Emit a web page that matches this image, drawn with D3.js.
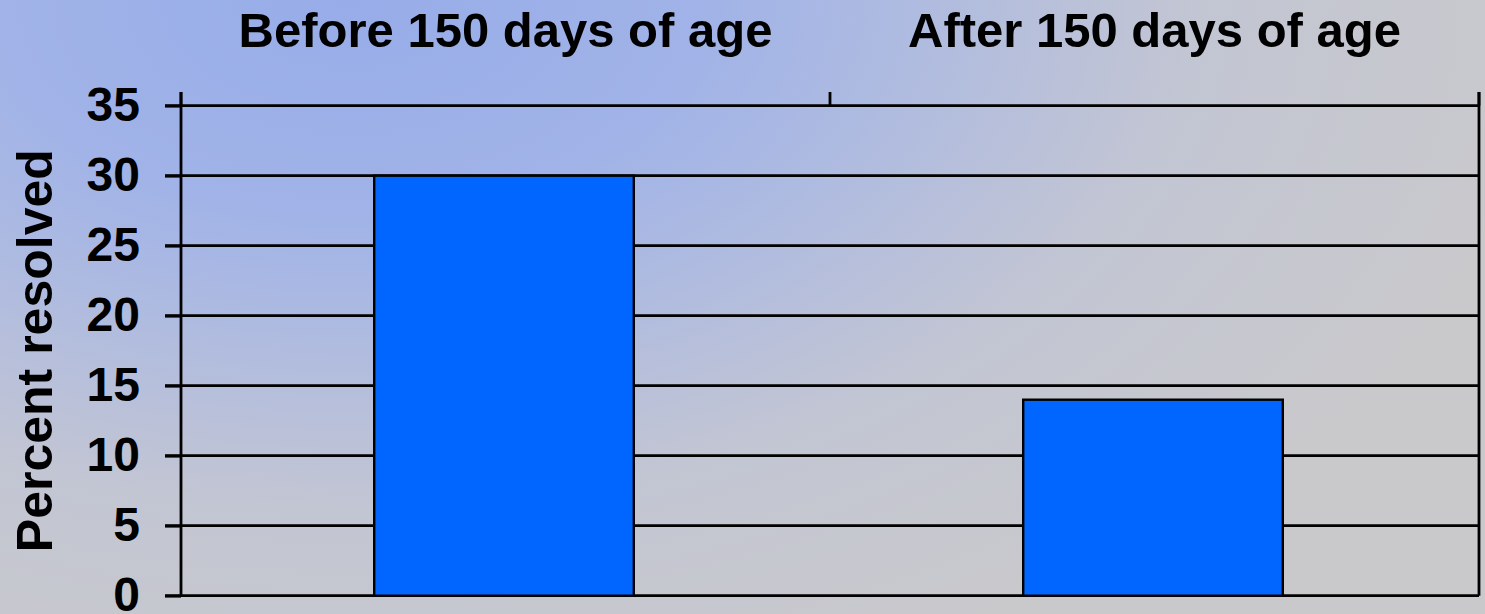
<!DOCTYPE html>
<html>
<head>
<meta charset="utf-8">
<script src="https://cdn.jsdelivr.net/npm/d3@7"></script>
<style>
  html, body { margin: 0; padding: 0; overflow: hidden; }
  svg { display: block; }
  text { font-family: "Liberation Sans", Arial, sans-serif; font-weight: bold; fill: #000; }
</style>
</head>
<body>
<svg id="chart" width="1485" height="614"></svg>
<script>
const categories = ["Before 150 days of age", "After 150 days of age"];
const values = [30, 14];
const yTicks = [0, 5, 10, 15, 20, 25, 30, 35];
const yTitle = "Percent resolved";

(function () {
const W = 1485, H = 614;
const svg = d3.select("#chart");

// background gradient
const defs = svg.append("defs");
const grad = defs.append("radialGradient")
  .attr("id", "bg")
  .attr("gradientUnits", "userSpaceOnUse")
  .attr("cx", 350).attr("cy", 0).attr("r", 1200)
  .attr("gradientTransform", "translate(350,0) scale(1,0.6) translate(-350,0)");
[[0, "#97ace9"], [0.3, "#a1b3e7"], [0.45, "#adbae1"], [0.7, "#c2c5d3"], [1, "#c9c9cc"]]
  .forEach(([o, c]) => grad.append("stop").attr("offset", o).attr("stop-color", c));
svg.append("rect").attr("width", W).attr("height", H).attr("fill", "url(#bg)");

const pLeft = 181, pRight = 1479, pTop = 105.7, pBottom = 595.7;
const x = d3.scaleBand().domain(categories).range([pLeft, pRight]).padding(0);
const y = d3.scaleLinear().domain([0, 35]).range([pBottom, pTop]);

const lw = 2.8;

// gridlines
svg.append("g").selectAll("line").data(yTicks).join("line")
  .attr("x1", pLeft - 16).attr("x2", pRight)
  .attr("y1", d => y(d)).attr("y2", d => y(d))
  .attr("stroke", "#000").attr("stroke-width", lw);

// bars
const bw = x.bandwidth() * 0.4;
svg.append("g").selectAll("rect").data(categories).join("rect")
  .attr("x", d => x(d) + x.bandwidth() / 2 - bw / 2 - 1.5)
  .attr("width", bw)
  .attr("y", (d, i) => y(values[i]))
  .attr("height", (d, i) => y(0) - y(values[i]))
  .attr("fill", "#0066ff")
  .attr("stroke", "#000").attr("stroke-width", 2.4);

// y axis
const yAxis = svg.append("g").attr("transform", `translate(${pLeft},0)`)
  .call(d3.axisLeft(y).tickValues(yTicks).tickSize(16).tickPadding(25).tickFormat(d3.format("d")));
yAxis.select(".domain").remove();
yAxis.selectAll(".tick line").attr("stroke", "#000").attr("stroke-width", lw);
yAxis.selectAll(".tick text").attr("font-size", 48).attr("font-family", "Liberation Sans, Arial, sans-serif")
  .attr("font-weight", "bold").attr("fill", "#000").attr("dy", "0.3em");

// vertical axis lines (left & right) and top ticks at band boundaries
const boundaries = [pLeft, ...categories.map(c => x(c) + x.bandwidth())];
svg.append("line").attr("x1", pLeft).attr("x2", pLeft).attr("y1", 92).attr("y2", pBottom)
  .attr("stroke", "#000").attr("stroke-width", lw);
svg.append("line").attr("x1", pRight).attr("x2", pRight).attr("y1", 92).attr("y2", pBottom)
  .attr("stroke", "#000").attr("stroke-width", lw);
svg.append("g").selectAll("line").data(boundaries).join("line")
  .attr("x1", d => d).attr("x2", d => d).attr("y1", 92).attr("y2", pTop)
  .attr("stroke", "#000").attr("stroke-width", lw);

// category labels (top)
svg.append("g").selectAll("text").data(categories).join("text")
  .attr("x", d => x(d) + x.bandwidth() / 2)
  .attr("y", 47)
  .attr("text-anchor", "middle")
  .attr("font-size", 49)
  .text(d => d);

// y title
svg.append("text")
  .attr("transform", `translate(52,${(pTop + pBottom) / 2}) rotate(-90)`)
  .attr("text-anchor", "middle")
  .attr("font-size", 50)
  .text(yTitle);
})();
</script>
</body>
</html>
